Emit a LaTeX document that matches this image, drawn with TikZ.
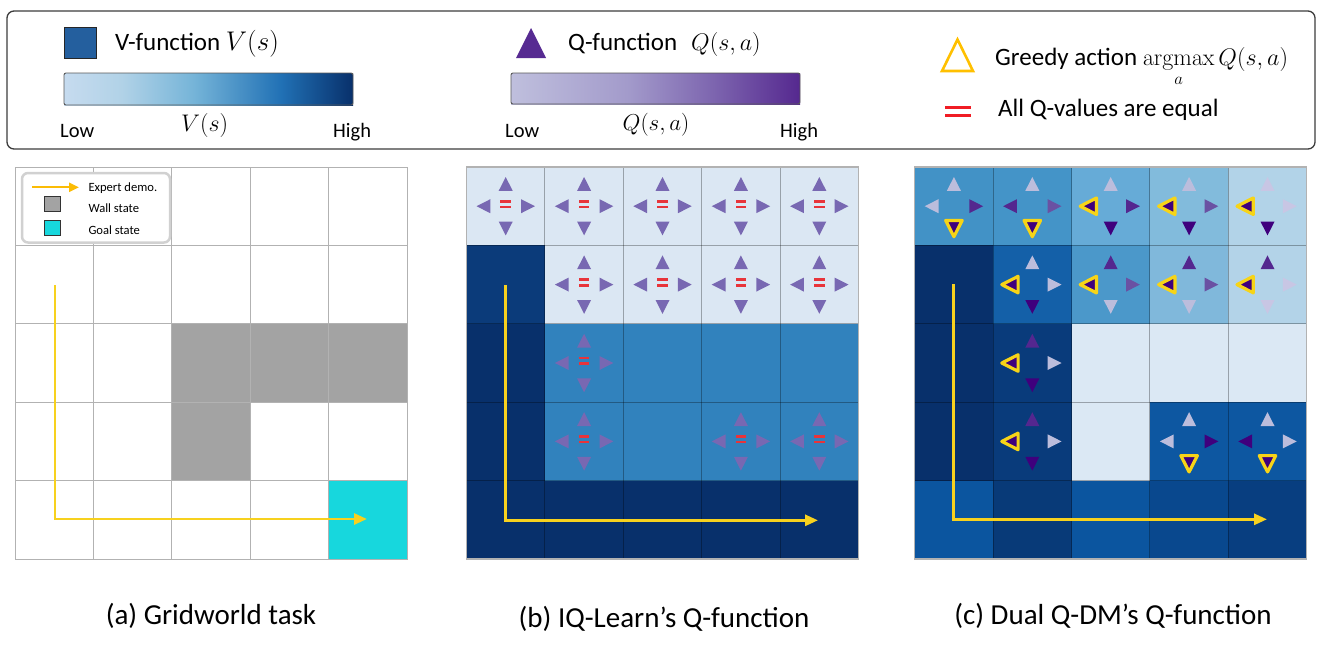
\RequirePackage{fix-cm}
\documentclass[tikz,border=0pt]{standalone}
\usepackage{amsmath}
\usepackage[no-math]{fontspec}
\setmainfont{Carlito}
\usetikzlibrary{arrows.meta}
\definecolor{legdark}{HTML}{3C3C3C}
\definecolor{vsq}{HTML}{245F9E}
\definecolor{qtri}{HTML}{572B92}
\definecolor{gold}{HTML}{FFC000}
\definecolor{eqr}{HTML}{F01C24}
\definecolor{eqb}{HTML}{E8343A}
\definecolor{expy}{HTML}{F7D11E}
\definecolor{expo}{HTML}{FBBC05}
\definecolor{wallc}{HTML}{A3A3A3}
\definecolor{goalc}{HTML}{17D7DD}
\definecolor{triB}{HTML}{7868B2}
\definecolor{cLt}{HTML}{BCBDDC}
\definecolor{cFt}{HTML}{C8C6E4}
\definecolor{cMd}{HTML}{6A51A3}
\definecolor{cDk}{HTML}{54278F}
\definecolor{cXd}{HTML}{3F007D}
\definecolor{gyel}{HTML}{F7D417}
\definecolor{vbA}{HTML}{C6DBEF}
\definecolor{vbB}{HTML}{B1D2E7}
\definecolor{vbC}{HTML}{75B4D8}
\definecolor{vbD}{HTML}{2171B5}
\definecolor{vbE}{HTML}{08306B}
\definecolor{qbA}{HTML}{BFBFDD}
\definecolor{qbB}{HTML}{A39BCB}
\definecolor{qbC}{HTML}{7D65AF}
\definecolor{qbD}{HTML}{55288F}
\pgfdeclarehorizontalshading{vbar}{100bp}{color(0bp)=(vbA); color(25bp)=(vbA); color(35bp)=(vbB); color(47.5bp)=(vbC); color(62.5bp)=(vbD); color(75bp)=(vbE); color(100bp)=(vbE)}
\pgfdeclarehorizontalshading{qbar}{100bp}{color(0bp)=(qbA); color(25bp)=(qbA); color(45bp)=(qbB); color(60bp)=(qbC); color(75bp)=(qbD); color(100bp)=(qbD)}
\newcommand\fsz[1]{\fontsize{#1}{#1}\selectfont}
\newcommand\Tri[4]{\path[shift={(#1,#2)},rotate=#3,#4] (0,-7.2)--(7,6.6)--(-7,6.6)--cycle;}
\newcommand\QCell[6]{\pgfmathsetmacro\qcx{39.2+78.4*#1}\pgfmathsetmacro\qcy{39.2+78.4*#2}%
 \Tri{\qcx}{\qcy-22}{0}{#3}\Tri{\qcx-22}{\qcy}{90}{#4}\Tri{\qcx+22}{\qcy}{-90}{#5}\Tri{\qcx}{\qcy+22}{180}{#6}}
\newcommand\BCell[2]{\QCell{#1}{#2}{tB}{tB}{tB}{tB}%
 \fill[eqb] (\qcx-5.3,\qcy-6.2) rectangle (\qcx+5.3,\qcy-3.6);
 \fill[eqb] (\qcx-5.3,\qcy-0.6) rectangle (\qcx+5.3,\qcy+1.9);}
\newcommand\SqH[3]{\definecolor{tmpc}{HTML}{#3}\fill[tmpc] (78.4*#1,78.4*#2) rectangle ++(78.4,78.4);}
\newcommand\GridLines[1]{\foreach \k in {1,...,4}{\draw[#1] (78.4*\k,0) -- (78.4*\k,392); \draw[#1] (0,78.4*\k) -- (392,78.4*\k);}}
\begin{document}
\begin{tikzpicture}[x=1pt,y=-1pt,
  txt/.style={inner sep=0pt,anchor=base west,text=black},
  captxt/.style={inner sep=0pt,anchor=base,text=black,font=\fsz{29}},
  tB/.style={fill=triB},
  tLt/.style={fill=cLt}, tFt/.style={fill=cFt}, tMd/.style={fill=cMd},
  tDk/.style={fill=cDk}, tXd/.style={fill=cXd},
  tGr/.style={fill=cXd,draw=gyel,line width=3.2pt,line join=round,scale=1.18},
  glA/.style={draw=black!30,line width=1pt},
  glB/.style={draw=black,draw opacity=0.3,line width=0.9pt},
  expert/.style={draw=expy,line width=2.8pt,-{Triangle[length=13pt,width=11pt]}},
]
\useasboundingbox (0,0) rectangle (1329,646);
\fill[white] (0,0) rectangle (1329,646);

% ---------- top legend ----------
\draw[draw=legdark,line width=1.3pt,rounded corners=7pt] (7,11) rectangle (1315,149);
\filldraw[fill=vsq,draw=black!85,line width=0.8pt] (64,27) rectangle (96,58);
\node[txt,font=\fsz{25}] (vlab) at (115,50) {V-function \fsz{27}$V(s)$};
\shade[shading=vbar] (64,73) rectangle (353,105);
\draw[draw=black!65,line width=0.9pt,rounded corners=2pt] (64,73) rectangle (353,105);
\node[txt,font=\fsz{20.5}] (vlow) at (60,137) {Low};
\node[txt,font=\fsz{24}] (vmid) at (181,131.5) {$V(s)$};
\node[txt,font=\fsz{20.5}] (vhigh) at (333,137.5) {High};

\fill[qtri] (516,58) -- (531,28) -- (546,58) -- cycle;
\node[txt,font=\fsz{25}] (qlab) at (568,50) {Q-function\hspace{14pt}\fsz{24}$Q(s,a)$};
\shade[shading=qbar] (511,73) rectangle (800,104);
\draw[draw=black!65,line width=0.9pt,rounded corners=2pt] (511,73) rectangle (800,104);
\node[txt,font=\fsz{20.5}] (qlow) at (505,137) {Low};
\node[txt,font=\fsz{23}] (qmid) at (622.5,130.5) {$Q(s,a)$};
\node[txt,font=\fsz{20.5}] (qhigh) at (780,137.5) {High};

\draw[draw=gold,line width=2.6pt] (942,71) -- (957.5,39.5) -- (973,71) -- cycle;
\node[txt,font=\fsz{25}] (glab) at (995,65) {Greedy action \fsz{24}$\mathop{\mathrm{argmax}}\limits_a Q(s,a)$};
\fill[eqr] (945,105.5) rectangle (971,109);
\fill[eqr] (945,113.5) rectangle (971,117);
\node[txt,font=\fsz{25}] (elab) at (998,116) {All Q-values are equal};

% ---------- grid (a) ----------
\begin{scope}[shift={(15,167)}]
  \fill[white] (0,0) rectangle (392,392);
  \SqH{2}{2}{A3A3A3}\SqH{3}{2}{A3A3A3}\SqH{4}{2}{A3A3A3}\SqH{2}{3}{A3A3A3}
  \SqH{4}{4}{17D7DD}
  \GridLines{glA}
  \draw[glA] (0,0) rectangle (392,392);
\end{scope}
\filldraw[fill=white,draw=black!18,line width=2.5pt,rounded corners=6pt] (22,173) rectangle (170,242.5);
\coordinate (la1) at (32,187.3);
\coordinate (la2) at (79,187.3);
\draw[draw=expo,line width=2.2pt,-{Triangle[length=10pt,width=9pt]}] (la1) -- (la2);
\filldraw[fill=wallc,draw=black!80,line width=0.8pt] (44.5,196) rectangle (60.5,211.7);
\filldraw[fill=goalc,draw=black!80,line width=0.8pt] (44.5,220) rectangle (60.5,235.7);
\node[txt,font=\fsz{12.6}] (lexp) at (88.3,191.5) {Expert demo.};
\node[txt,font=\fsz{12.6}] (lwall) at (88.3,212.3) {Wall state};
\node[txt,font=\fsz{12.6}] (lgoal) at (88.3,234) {Goal state};
\coordinate (ea1) at (55,285);
\coordinate (ea2) at (367,519);
\draw[expert] (ea1) |- (ea2);

% ---------- grid (b) ----------
\begin{scope}[shift={(466.5,167)}]
  \foreach \i in {0,...,4}{\SqH{\i}{0}{DBE7F3}\SqH{\i}{4}{08306B}}
  \SqH{0}{1}{0B3B7A}\SqH{0}{2}{08306B}\SqH{0}{3}{08306B}
  \foreach \i in {1,...,4}{\SqH{\i}{1}{DBE7F3}\SqH{\i}{2}{3182BD}\SqH{\i}{3}{3182BD}}
  \GridLines{glB}
  \draw[draw=black!30,line width=1.2pt] (0,0) rectangle (392,392);
  \BCell{0}{0}\BCell{1}{0}\BCell{2}{0}\BCell{3}{0}\BCell{4}{0}
  \BCell{1}{1}\BCell{2}{1}\BCell{3}{1}\BCell{4}{1}
  \BCell{1}{2}
  \BCell{1}{3}\BCell{3}{3}\BCell{4}{3}
\end{scope}
\coordinate (eb1) at (505.7,285);
\coordinate (eb2) at (818,520.3);
\draw[expert] (eb1) |- (eb2);

% ---------- grid (c) ----------
\begin{scope}[shift={(914.7,167)}]
  \SqH{0}{0}{4292C6}\SqH{1}{0}{4494C8}\SqH{2}{0}{66ABD7}\SqH{3}{0}{82BBDC}\SqH{4}{0}{B2D3E8}
  \SqH{0}{1}{08306B}\SqH{1}{1}{1460A8}\SqH{2}{1}{4B98CA}\SqH{3}{1}{80B8DB}\SqH{4}{1}{B3D3E8}
  \SqH{0}{2}{08306B}\SqH{1}{2}{093B7B}\SqH{2}{2}{DBE8F4}\SqH{3}{2}{DBE8F4}\SqH{4}{2}{DBE8F4}
  \SqH{0}{3}{08306B}\SqH{1}{3}{093B7B}\SqH{2}{3}{DBE8F4}\SqH{3}{3}{0D57A1}\SqH{4}{3}{0D57A1}
  \SqH{0}{4}{0B559F}\SqH{1}{4}{083A78}\SqH{2}{4}{0B559F}\SqH{3}{4}{09488E}\SqH{4}{4}{083E80}
  \GridLines{glB}
  \draw[draw=black!30,line width=1.2pt] (0,0) rectangle (392,392);
  \QCell{0}{0}{tLt}{tLt}{tDk}{tGr}
  \QCell{1}{0}{tLt}{tDk}{tMd}{tGr}
  \QCell{2}{0}{tLt}{tGr}{tDk}{tXd}
  \QCell{3}{0}{tLt}{tGr}{tMd}{tXd}
  \QCell{4}{0}{tFt}{tGr}{tFt}{tXd}
  \QCell{1}{1}{tLt}{tGr}{tLt}{tXd}
  \QCell{2}{1}{tDk}{tGr}{tMd}{tLt}
  \QCell{3}{1}{tDk}{tGr}{tMd}{tLt}
  \QCell{4}{1}{tDk}{tGr}{tFt}{tFt}
  \QCell{1}{2}{tDk}{tGr}{tLt}{tXd}
  \QCell{1}{3}{tDk}{tGr}{tLt}{tXd}
  \QCell{3}{3}{tLt}{tLt}{tXd}{tGr}
  \QCell{4}{3}{tLt}{tXd}{tLt}{tGr}
\end{scope}
\coordinate (ec1) at (953.3,284);
\coordinate (ec2) at (1267,519.3);
\draw[expert] (ec1) |- (ec2);

% ---------- captions ----------
\node[captxt] (capa) at (211,624) {(a) Gridworld task};
\node[captxt] (capb) at (664,627) {(b) IQ-Learn’s Q-function};
\node[captxt] (capc) at (1113,624) {(c) Dual Q-DM’s Q-function};
\end{tikzpicture}
\end{document}
